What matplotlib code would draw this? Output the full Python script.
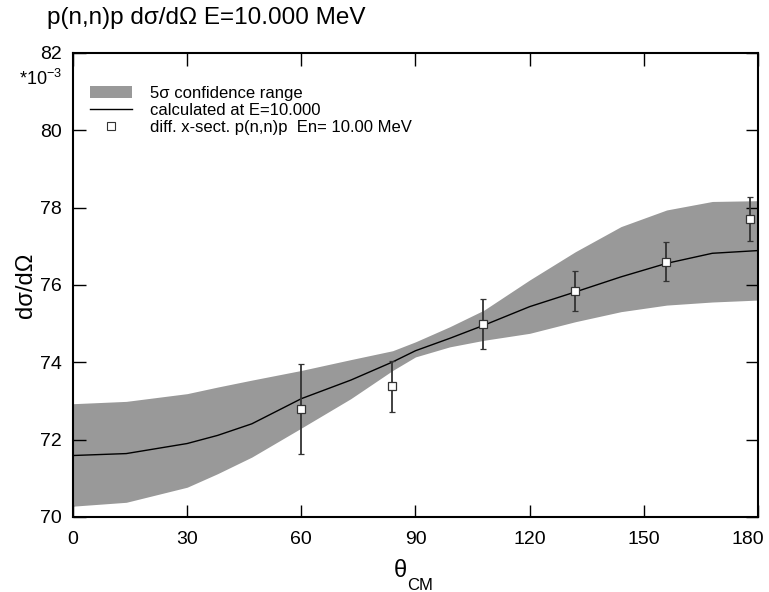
import matplotlib
matplotlib.use("Agg")
import matplotlib.pyplot as plt
import matplotlib.transforms as mtransforms
from matplotlib.lines import Line2D
from matplotlib.patches import Patch

plt.rcParams['font.family'] = ['Liberation Sans', 'DejaVu Sans']
plt.rcParams['mathtext.fontset'] = 'custom'
plt.rcParams['mathtext.rm'] = 'Liberation Sans'

# curve / band grid (theta_CM, degrees)
theta = [0, 14, 30, 38, 47, 60, 73, 84, 90, 99, 108, 120, 132, 144, 156, 168, 180]
calc = [71.59, 71.64, 71.90, 72.11, 72.41, 73.06, 73.54, 74.01, 74.30, 74.62, 74.96,
        75.44, 75.82, 76.21, 76.56, 76.82, 76.89]
upper = [72.93, 72.99, 73.19, 73.36, 73.54, 73.79, 74.07, 74.30, 74.53, 74.92, 75.35,
         76.13, 76.86, 77.51, 77.94, 78.16, 78.18]
lower = [70.28, 70.38, 70.77, 71.12, 71.55, 72.30, 73.06, 73.79, 74.14, 74.40, 74.57,
         74.75, 75.05, 75.31, 75.48, 75.56, 75.61]

# experimental points
exp_theta = [60.0, 83.7, 107.8, 131.8, 155.8, 178.0]
exp_val = [72.79, 73.38, 75.00, 75.85, 76.60, 77.70]
exp_err = [1.17, 0.66, 0.65, 0.52, 0.50, 0.57]

xticks = [0, 30, 60, 90, 120, 150, 180]
yticks = [70, 72, 74, 76, 78, 80, 82]

W, H = 769, 592
fig = plt.figure(figsize=(W / 100, H / 100), dpi=100)
ax = fig.add_axes([0.0949, 0.1267, 0.8908, 0.7838])

ax.fill_between(theta, lower, upper, color='#999999', linewidth=0)
ax.plot(theta, calc, color='black', linewidth=1.0)
ax.errorbar(exp_theta, exp_val, yerr=exp_err, fmt='s', markersize=5.5,
            markerfacecolor='white', markeredgecolor='#333333', markeredgewidth=0.9,
            ecolor='#333333', elinewidth=1.3, capsize=2.5, capthick=1.3, zorder=3)

ax.set_xlim(0, 180)
ax.set_ylim(70, 82)
ax.set_xticks(xticks)
ax.set_yticks(yticks)
ax.tick_params(direction='in', top=True, right=True, length=9, width=1,
               labelsize=14, pad=8)
ax.tick_params(axis='x', pad=10)
for s in ax.spines.values():
    s.set_linewidth(1.5)

# shift the last x tick label slightly left, as in the reference
fig.canvas.draw()
lbls = ax.get_xticklabels()
lbls[-1].set_transform(lbls[-1].get_transform() +
                       mtransforms.ScaledTranslation(-10 / 100, 0, fig.dpi_scale_trans))

# x label: theta with a low "CM" subscript
fig.text(394 / W, 1 - 577 / H, 'θ', fontsize=17, ha='left', va='baseline')
fig.text(407 / W, 1 - 590 / H, 'CM', fontsize=12, ha='left', va='baseline')

ax.set_ylabel('dσ/dΩ', fontsize=17, labelpad=2)

fig.text(0.061, 0.988, 'p(n,n)p dσ/dΩ E=10.000 MeV', fontsize=17.5,
         ha='left', va='top')
fig.text(62 / W, 1 - 85 / H, r'*10$^{-3}$', fontsize=13, ha='right', va='baseline')

handles = [Patch(facecolor='#999999', edgecolor='none'),
           Line2D([], [], color='black', linewidth=1.0),
           Line2D([], [], linestyle='none', marker='s', markersize=5.5,
                  markerfacecolor='white', markeredgecolor='#333333', markeredgewidth=0.8)]
labels = ['5σ confidence range', 'calculated at E=10.000',
          'diff. x-sect. p(n,n)p  En= 10.00 MeV']
ax.legend(handles, labels, loc='upper left', bbox_to_anchor=(0.015, 0.944),
          frameon=False, fontsize=12, handlelength=2.5, handleheight=0.75,
          handletextpad=1.1, labelspacing=0.12, borderaxespad=0.0)

fig.savefig('out.png', dpi=100)
